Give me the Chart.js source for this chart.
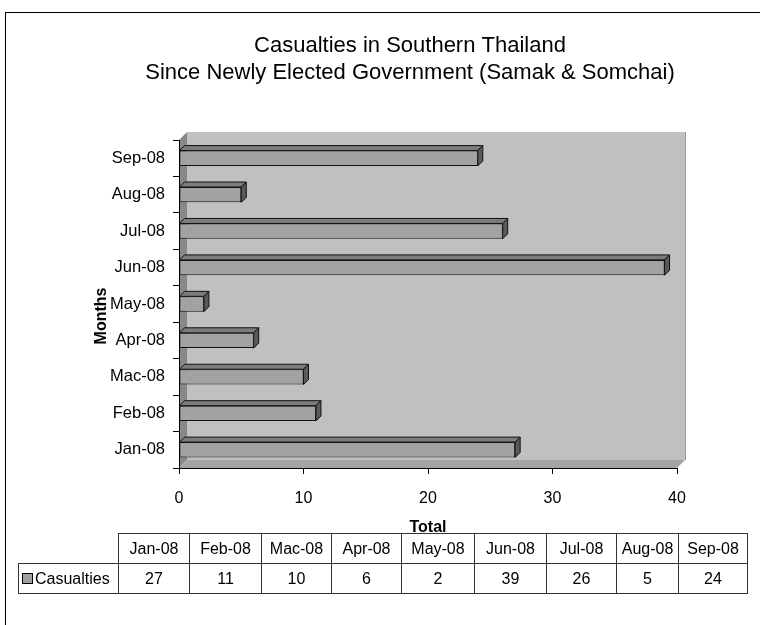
<!DOCTYPE html>
<html>
<head>
<meta charset="utf-8">
<script src="https://cdn.jsdelivr.net/npm/chart.js@4/dist/chart.umd.min.js"></script>
<style>
  html, body { margin:0; padding:0; background:#fff; }
  #wrap { position:relative; width:760px; height:625px; overflow:hidden; font-family:'Liberation Sans', Arial, sans-serif; }
  #c { position:absolute; left:0; top:0; }
  #frame { position:absolute; left:5px; top:12px; width:800px; height:700px; border-left:1px solid #000; border-top:1px solid #000; }
  #tbl { position:absolute; left:18px; top:533px; border-collapse:collapse; table-layout:fixed; font-size:16px; color:#000; }
  #tbl td { border:1px solid #333; height:29px; padding:0; text-align:center; white-space:nowrap; }
  #tbl td.blank { border:none; }
  #tbl td.lab { text-align:left; padding-left:3px; }
  .key { display:inline-block; width:9px; height:9px; background:#a0a0a0; border:1px solid #000; margin-right:2px; vertical-align:0px; }
</style>
</head>
<body>
<div id="wrap">
  <canvas id="c" width="760" height="625"></canvas>
  <div id="frame"></div>
  <table id="tbl"><colgroup id="cols"></colgroup><tbody id="tb"></tbody></table>
</div>
<script>
// ---- data ----
const categories = ['Jan-08','Feb-08','Mac-08','Apr-08','May-08','Jun-08','Jul-08','Aug-08','Sep-08'];
const casualties = [27, 11, 10, 6, 2, 39, 26, 5, 24];
const xTickValues = [0, 10, 20, 30, 40];
const titleLines = ['Casualties in Southern Thailand', 'Since Newly Elected Government (Samak & Somchai)'];
const seriesName = 'Casualties';
const xTitle = 'Total';
const yTitle = 'Months';

// ---- layout constants ----
const FONT = "'Liberation Sans', Arial, sans-serif";
const labelColWidth = 100;
const colWidths = [71, 72, 70, 70, 73, 72, 70, 62, 69];
const wallDepth = 8;
const barDepth = 5;

// ---- data table ----
(function buildTable(){
  const cols = document.getElementById('cols');
  const c0 = document.createElement('col'); c0.style.width = labelColWidth + 'px'; cols.appendChild(c0);
  colWidths.forEach(w => { const c = document.createElement('col'); c.style.width = w + 'px'; cols.appendChild(c); });
  const tb = document.getElementById('tb');
  const r1 = document.createElement('tr');
  const blank = document.createElement('td'); blank.className = 'blank'; r1.appendChild(blank);
  categories.forEach(cat => { const td = document.createElement('td'); td.textContent = cat; r1.appendChild(td); });
  tb.appendChild(r1);
  const r2 = document.createElement('tr');
  const lab = document.createElement('td'); lab.className = 'lab';
  const key = document.createElement('span'); key.className = 'key'; lab.appendChild(key);
  lab.appendChild(document.createTextNode(seriesName));
  r2.appendChild(lab);
  casualties.forEach(v => { const td = document.createElement('td'); td.textContent = String(v); r2.appendChild(td); });
  tb.appendChild(r2);
})();

function poly(ctx, pts, fill, stroke) {
  ctx.beginPath();
  ctx.moveTo(pts[0][0], pts[0][1]);
  for (let i = 1; i < pts.length; i++) ctx.lineTo(pts[i][0], pts[i][1]);
  ctx.closePath();
  if (fill) { ctx.fillStyle = fill; ctx.fill(); }
  if (stroke) { ctx.strokeStyle = stroke; ctx.lineWidth = 1; ctx.stroke(); }
}

const threeD = {
  id: 'threeD',
  beforeDraw(chart) {
    const { ctx, chartArea: a } = chart;
    const d = wallDepth;
    ctx.save();
    poly(ctx, [[a.left + d, a.top - d], [a.right + d, a.top - d], [a.right + d, a.bottom - d], [a.left + d, a.bottom - d]], '#c0c0c0', null);
    ctx.strokeStyle = '#9a9a9a'; ctx.lineWidth = 1;
    ctx.beginPath(); ctx.moveTo(a.right + d + 0.5, a.top - d); ctx.lineTo(a.right + d + 0.5, a.bottom - d); ctx.stroke();
    poly(ctx, [[a.left, a.bottom], [a.left, a.top], [a.left + d, a.top - d], [a.left + d, a.bottom - d]], '#888888', null);
    poly(ctx, [[a.left, a.bottom], [a.right, a.bottom], [a.right + d, a.bottom - d], [a.left + d, a.bottom - d]], '#a4a4a4', null);
    ctx.restore();
  },
  afterDatasetsDraw(chart) {
    const { ctx } = chart;
    const e = barDepth;
    const meta = chart.getDatasetMeta(0);
    ctx.save();
    meta.data.forEach(bar => {
      const p = bar.getProps(['x', 'y', 'base', 'height'], true);
      const t = p.y - p.height / 2, b = p.y + p.height / 2;
      poly(ctx, [[p.base, t], [p.x, t], [p.x + e, t - e], [p.base + e, t - e]], '#7c7c7c', '#111');
      poly(ctx, [[p.x, t], [p.x + e, t - e], [p.x + e, b - e], [p.x, b]], '#5a5a5a', '#111');
    });
    ctx.restore();
  },
  afterDraw(chart) {
    const { ctx } = chart;
    ctx.save();
    ctx.translate(102, 316);
    ctx.rotate(-Math.PI / 2);
    ctx.font = 'bold 16px ' + FONT;
    ctx.fillStyle = '#000';
    ctx.textAlign = 'center';
    ctx.textBaseline = 'middle';
    ctx.fillText(yTitle, 0, 0);
    ctx.restore();
  }
};

Chart.defaults.font.family = FONT;
Chart.defaults.color = '#000';

new Chart(document.getElementById('c'), {
  type: 'bar',
  data: {
    labels: categories,
    datasets: [{
      label: seriesName,
      data: casualties,
      backgroundColor: '#a2a2a2',
      borderColor: '#111',
      borderWidth: 1,
      borderSkipped: false,
      categoryPercentage: 1,
      barPercentage: 0.42
    }]
  },
  options: {
    indexAxis: 'y',
    responsive: false,
    animation: false,
    devicePixelRatio: 1,
    layout: { padding: { left: 60, right: 0, top: 0, bottom: 0 } },
    plugins: {
      legend: { display: false },
      tooltip: { enabled: false },
      title: {
        display: true,
        text: titleLines,
        color: '#000',
        font: { size: 22, weight: 'normal', lineHeight: '27px' },
        padding: { top: 32.5, bottom: 53.5 }
      }
    },
    scales: {
      x: {
        type: 'linear',
        min: 0, max: 40,
        afterBuildTicks: s => { s.ticks = xTickValues.map(v => ({ value: v })); },
        afterFit: s => { s.height = 157; s.paddingRight = 83; },
        grid: { drawOnChartArea: false, drawTicks: true, tickLength: 6, color: '#000' },
        border: { display: true, color: '#000' },
        ticks: { font: { size: 16 }, padding: 15, color: '#000' },
        title: { display: true, text: xTitle, font: { size: 16, weight: 'bold' }, color: '#000', padding: { top: 0, bottom: 88 } }
      },
      y: {
        type: 'category',
        reverse: true,
        afterFit: s => { s.width = 119; },
        grid: { drawOnChartArea: false, drawTicks: true, tickLength: 6, color: '#000', offset: true },
        border: { display: true, color: '#000' },
        ticks: { font: { size: 16.5 }, padding: 8, color: '#000' }
      }
    }
  },
  plugins: [threeD]
});
</script>
</body>
</html>
